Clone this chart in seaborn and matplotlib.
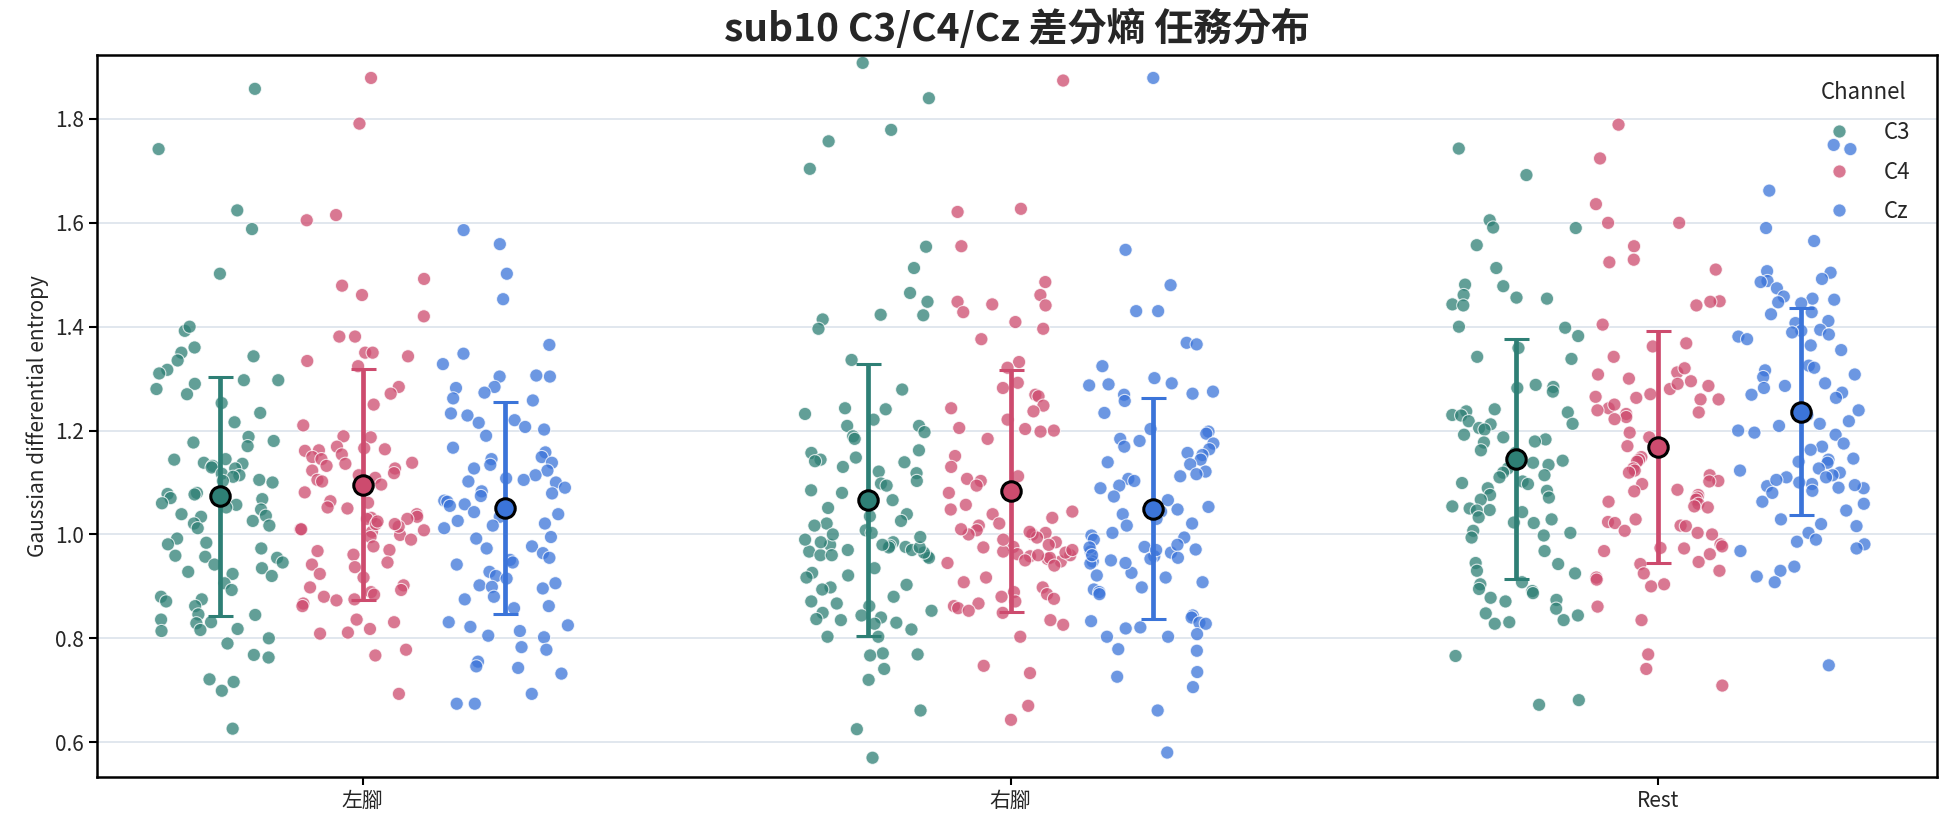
import numpy as np
import pandas as pd
import matplotlib
matplotlib.use("Agg")
import matplotlib.pyplot as plt
import seaborn as sns

# --- data (one value per trial) ---
tasks = ["左腳", "右腳", "Rest"]
channels = ["C3", "C4", "Cz"]

c3_left = [1.858, 1.742, 1.624, 1.588, 1.502, 1.392, 1.35, 1.343, 1.335, 1.317,
           1.297, 1.297, 1.28, 1.253, 1.234, 1.216, 1.188, 1.177, 1.18, 1.17,
           1.145, 1.144, 1.138, 1.136, 1.132, 1.129, 1.127, 1.117, 1.114, 1.111,
           1.105, 1.103, 1.1, 1.08, 1.078, 1.077, 1.07, 1.068, 1.06, 1.057,
           1.052, 1.048, 1.039, 1.036, 1.034, 1.026, 1.021, 1.017, 1.012, 0.992,
           0.984, 0.981, 0.973, 0.959, 0.957, 0.955, 0.946, 0.942, 0.935, 0.928,
           0.924, 0.92, 0.906, 0.893, 0.88, 0.875, 0.871, 0.862, 0.846, 0.845,
           0.836, 0.831, 0.829, 0.818, 0.816, 0.814, 0.8, 0.768, 0.763, 0.721,
           0.716, 0.699, 0.626, 1.40, 1.36, 1.31, 1.29, 1.27, 0.79]
c4_left = [1.879, 1.791, 1.615, 1.605, 1.492, 1.479, 1.461, 1.42, 1.381, 1.381,
           1.35, 1.35, 1.343, 1.334, 1.324, 1.284, 1.271, 1.25, 1.21, 1.189,
           1.187, 1.169, 1.166, 1.164, 1.162, 1.161, 1.154, 1.149, 1.145, 1.138,
           1.136, 1.132, 1.127, 1.123, 1.118, 1.114, 1.109, 1.105, 1.102, 1.096,
           1.081, 1.064, 1.061, 1.052, 1.05, 1.039, 1.034, 1.032, 1.03, 1.01,
           1.008, 1.005, 0.999, 0.995, 0.99, 0.977, 0.97, 0.968, 0.961, 0.946,
           0.942, 0.937, 0.924, 0.917, 0.902, 0.898, 0.893, 0.889, 0.884, 0.88,
           0.875, 0.873, 0.867, 0.862, 0.836, 0.831, 0.818, 0.811, 0.809, 0.778,
           0.767, 0.693, 1.03, 1.02, 1.015, 1.025, 1.01, 1.02]
cz_left = [1.586, 1.559, 1.502, 1.453, 1.365, 1.348, 1.328, 1.304, 1.306, 1.304,
           1.284, 1.282, 1.273, 1.262, 1.258, 1.233, 1.229, 1.22, 1.215, 1.207,
           1.202, 1.19, 1.167, 1.158, 1.149, 1.145, 1.138, 1.134, 1.127, 1.123,
           1.114, 1.108, 1.105, 1.102, 1.1, 1.09, 1.083, 1.079, 1.074, 1.065,
           1.063, 1.058, 1.055, 1.043, 1.039, 1.034, 1.026, 1.021, 1.017, 1.012,
           0.995, 0.992, 0.977, 0.973, 0.964, 0.955, 0.951, 0.946, 0.942, 0.928,
           0.92, 0.915, 0.906, 0.902, 0.899, 0.896, 0.88, 0.875, 0.862, 0.858,
           0.831, 0.825, 0.822, 0.814, 0.805, 0.802, 0.783, 0.778, 0.755, 0.746,
           0.743, 0.732, 0.693, 0.674, 0.674]

c3_right = [1.908, 1.84, 1.779, 1.757, 1.704, 1.554, 1.513, 1.465, 1.448, 1.423,
            1.422, 1.414, 1.396, 1.336, 1.279, 1.243, 1.241, 1.232, 1.221, 1.209,
            1.209, 1.197, 1.189, 1.184, 1.162, 1.157, 1.148, 1.144, 1.141, 1.139,
            1.13, 1.121, 1.118, 1.103, 1.098, 1.094, 1.085, 1.08, 1.066, 1.051,
            1.039, 1.035, 1.026, 1.021, 1.017, 1.008, 1.003, 0.985, 0.98, 0.978,
            0.976, 0.967, 0.958, 0.955, 0.935, 0.926, 0.921, 0.917, 0.903, 0.898,
            0.894, 0.88, 0.871, 0.867, 0.862, 0.853, 0.849, 0.844, 0.84, 0.837,
            0.835, 0.83, 0.828, 0.817, 0.803, 0.803, 0.771, 0.769, 0.767, 0.741,
            0.72, 0.661, 0.625, 0.57, 0.97, 0.96, 0.975, 0.965, 0.98, 0.97,
            0.96, 0.975, 0.99, 1.0, 0.985, 0.995]
c4_right = [1.874, 1.627, 1.621, 1.555, 1.486, 1.461, 1.448, 1.443, 1.441, 1.428,
            1.409, 1.396, 1.376, 1.332, 1.321, 1.292, 1.282, 1.269, 1.266, 1.248,
            1.243, 1.237, 1.221, 1.205, 1.203, 1.2, 1.198, 1.184, 1.151, 1.13,
            1.112, 1.107, 1.103, 1.094, 1.08, 1.057, 1.048, 1.044, 1.039, 1.032,
            1.021, 1.017, 1.008, 1.003, 1.0, 0.994, 0.985, 0.976, 0.967, 0.962,
            0.958, 0.953, 0.948, 0.917, 0.908, 0.898, 0.889, 0.885, 0.88, 0.876,
            0.871, 0.867, 0.862, 0.858, 0.853, 0.849, 0.835, 0.826, 0.803, 0.747,
            0.733, 0.67, 0.643, 0.96, 0.955, 0.965, 0.95, 0.97, 0.96, 0.945,
            0.975, 0.94, 0.99, 1.0, 1.01, 0.98, 1.005]
cz_right = [1.879, 1.548, 1.48, 1.43, 1.43, 1.369, 1.366, 1.324, 1.301, 1.291,
            1.289, 1.287, 1.275, 1.271, 1.269, 1.257, 1.234, 1.203, 1.198, 1.194,
            1.184, 1.18, 1.175, 1.169, 1.164, 1.157, 1.153, 1.144, 1.139, 1.135,
            1.121, 1.116, 1.112, 1.107, 1.103, 1.094, 1.089, 1.073, 1.066, 1.053,
            1.048, 1.044, 1.039, 1.03, 1.021, 1.017, 1.003, 0.998, 0.994, 0.99,
            0.976, 0.971, 0.967, 0.958, 0.953, 0.948, 0.944, 0.926, 0.921, 0.917,
            0.908, 0.898, 0.894, 0.889, 0.885, 0.844, 0.84, 0.833, 0.83, 0.828,
            0.821, 0.819, 0.808, 0.803, 0.803, 0.779, 0.776, 0.735, 0.726, 0.706,
            0.661, 0.58, 0.97, 0.965, 0.975, 0.96, 0.98, 0.95, 0.955, 0.945]

c3_rest = [1.743, 1.692, 1.605, 1.591, 1.59, 1.557, 1.513, 1.481, 1.478, 1.461,
           1.456, 1.454, 1.443, 1.441, 1.4, 1.398, 1.382, 1.359, 1.342, 1.338,
           1.288, 1.284, 1.282, 1.275, 1.241, 1.237, 1.235, 1.23, 1.229, 1.218,
           1.213, 1.212, 1.205, 1.202, 1.192, 1.187, 1.183, 1.179, 1.177, 1.162,
           1.157, 1.142, 1.138, 1.134, 1.127, 1.119, 1.114, 1.11, 1.102, 1.099,
           1.097, 1.089, 1.084, 1.076, 1.071, 1.067, 1.054, 1.05, 1.047, 1.046,
           1.043, 1.033, 1.029, 1.023, 1.022, 1.007, 1.003, 0.998, 0.994, 0.968,
           0.945, 0.943, 0.93, 0.925, 0.908, 0.904, 0.895, 0.891, 0.887, 0.878,
           0.874, 0.871, 0.857, 0.848, 0.844, 0.835, 0.831, 0.828, 0.766, 0.681,
           0.672]
c4_rest = [1.789, 1.724, 1.636, 1.6, 1.6, 1.555, 1.529, 1.524, 1.51, 1.449,
           1.448, 1.441, 1.404, 1.368, 1.362, 1.342, 1.312, 1.308, 1.295, 1.286,
           1.265, 1.263, 1.26, 1.243, 1.239, 1.235, 1.232, 1.226, 1.222, 1.196,
           1.187, 1.17, 1.149, 1.144, 1.14, 1.127, 1.123, 1.119, 1.114, 1.103,
           1.102, 1.097, 1.086, 1.083, 1.076, 1.071, 1.067, 1.063, 1.059, 1.054,
           1.052, 1.029, 1.024, 1.022, 1.017, 1.016, 1.007, 1.003, 1.0, 0.981,
           0.977, 0.974, 0.973, 0.968, 0.962, 0.947, 0.943, 0.93, 0.925, 0.917,
           0.913, 0.904, 0.9, 0.861, 0.835, 0.769, 0.741, 0.709, 1.25, 1.27,
           1.30, 1.26, 1.28, 1.32, 1.29]
cz_rest = [1.75, 1.742, 1.662, 1.59, 1.565, 1.507, 1.504, 1.492, 1.488, 1.486,
           1.474, 1.458, 1.454, 1.452, 1.447, 1.445, 1.428, 1.424, 1.411, 1.407,
           1.394, 1.392, 1.389, 1.385, 1.381, 1.376, 1.364, 1.355, 1.325, 1.321,
           1.316, 1.308, 1.303, 1.291, 1.286, 1.282, 1.273, 1.269, 1.263, 1.243,
           1.239, 1.23, 1.226, 1.218, 1.213, 1.209, 1.2, 1.196, 1.192, 1.175,
           1.169, 1.163, 1.146, 1.144, 1.14, 1.138, 1.127, 1.123, 1.119, 1.114,
           1.11, 1.097, 1.093, 1.089, 1.084, 1.063, 1.059, 1.046, 1.029, 1.02,
           1.016, 1.003, 0.99, 0.986, 0.981, 0.973, 0.968, 0.938, 0.93, 0.919,
           0.908, 0.748, 1.10, 1.105, 1.095, 1.11, 1.08, 1.09]

# --- style ---
PALETTE = {"C3": "#2e7f75", "C4": "#cd4b6e", "Cz": "#3b74d9"}
OFFSETS = {"C3": -0.22, "C4": 0.0, "Cz": 0.22}

sns.set_theme(style="ticks")
plt.rcParams['font.family'] = ['Noto Sans CJK TC', 'DejaVu Sans']


def build_frame():
    series = {
        ("左腳", "C3"): c3_left, ("左腳", "C4"): c4_left, ("左腳", "Cz"): cz_left,
        ("右腳", "C3"): c3_right, ("右腳", "C4"): c4_right, ("右腳", "Cz"): cz_right,
        ("Rest", "C3"): c3_rest, ("Rest", "C4"): c4_rest, ("Rest", "Cz"): cz_rest,
    }
    rows = []
    for (task, ch), vals in series.items():
        for v in vals:
            rows.append({"task": task, "Channel": ch, "entropy": v})
    df = pd.DataFrame(rows)
    df["xpos"] = df["task"].map({t: i for i, t in enumerate(tasks)}) + df["Channel"].map(OFFSETS)
    return df


np.random.seed(10)
df = build_frame()

fig = plt.figure(figsize=(19.44, 8.27), dpi=100)
ax = fig.add_axes([0.0499, 0.0605, 0.9465, 0.8735])

ax.grid(axis="y", color="#dce3eb", linewidth=1.2, zorder=0)
ax.set_axisbelow(True)

sns.stripplot(data=df, x="xpos", y="entropy", hue="Channel", hue_order=channels,
              palette=PALETTE, native_scale=True, jitter=0.45, size=9.5,
              alpha=0.75, edgecolor="white", linewidth=0.8, ax=ax, zorder=2)

# mean +/- SD per task/channel
stats = df.groupby(["task", "Channel"], sort=False)["entropy"].agg(["mean", "std"]).reset_index()
stats["xpos"] = stats["task"].map({t: i for i, t in enumerate(tasks)}) + stats["Channel"].map(OFFSETS)
for _, r in stats.iterrows():
    c = PALETTE[r["Channel"]]
    ax.errorbar(r["xpos"], r["mean"], yerr=r["std"], fmt="o", color=c, ecolor=c,
                elinewidth=3.4, capsize=9, capthick=2.5, markersize=14,
                markerfacecolor=c, markeredgecolor="black", markeredgewidth=2.2, zorder=5)

ax.set_xlim(-0.41, 2.43)
ax.set_ylim(0.533, 1.924)
ax.set_xticks(range(len(tasks)))
ax.set_xticklabels(tasks, fontsize=15)
ax.set_yticks([0.6, 0.8, 1.0, 1.2, 1.4, 1.6, 1.8])
ax.set_yticklabels(["0.6", "0.8", "1.0", "1.2", "1.4", "1.6", "1.8"], fontsize=15)
ax.tick_params(axis="both", length=6, width=1.5, color="black")
ax.set_xlabel("")
ax.set_ylabel("Gaussian differential entropy", fontsize=15)
for s in ax.spines.values():
    s.set_visible(True)
    s.set_linewidth(1.8)
    s.set_color("black")

ax.set_title("sub10 C3/C4/Cz 差分熵 任務分布", fontsize=28, fontweight="bold", pad=10)

leg = ax.legend(title="Channel", loc="upper right", frameon=False, fontsize=16,
                title_fontsize=16, markerscale=1.0, borderaxespad=0.8,
                labelspacing=0.75, handlelength=2.0, handletextpad=1.0)
leg.set_zorder(10)

fig.savefig("out.png", dpi=100)
